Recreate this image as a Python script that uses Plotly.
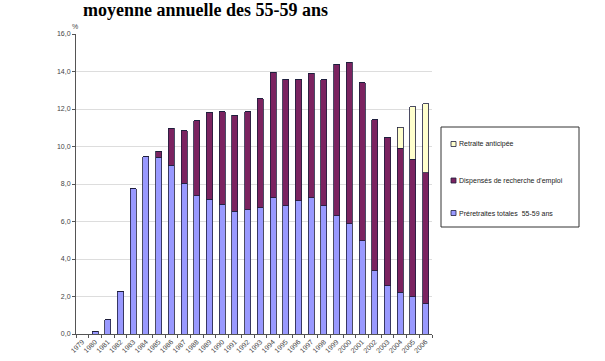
import plotly.graph_objects as go

years = [str(y) for y in range(1979, 2007)]
preretraites = [0, 0.15, 0.75, 2.25, 7.75, 9.45, 9.42, 9.0, 8.05, 7.38, 7.2, 6.92, 6.56, 6.63,
                6.74, 7.27, 6.85, 7.12, 7.27, 6.85, 6.31, 5.88, 4.98, 3.37, 2.58, 2.22, 1.99, 1.62]
dispenses = [0, 0, 0, 0, 0, 0, 0.34, 1.97, 2.78, 4.0, 4.59, 4.94, 5.12, 5.23,
             5.81, 6.7, 6.75, 6.48, 6.65, 6.72, 8.07, 8.61, 8.43, 8.06, 7.89, 7.68, 7.34, 6.97]
retraite = [0] * 25 + [1.12, 2.79, 3.68]

series_names = ["Préretraites totales  55-59 ans", "Dispensés de recherche d'emploi", "Retraite anticipée"]
series_vals = [preretraites, dispenses, retraite]
colors = ["#9999FF", "#7B2360", "#FFFFCC"]
y_ticks = [0, 2, 4, 6, 8, 10, 12, 14, 16]

fig = go.Figure()
for name, vals, col in zip(series_names, series_vals, colors):
    fig.add_trace(go.Bar(x=years, y=vals, name=name, marker=dict(color=col, line=dict(color="#1e1e3c", width=0.8)),
                         showlegend=False))

L, R, T, B = 76, 173, 34, 27
W, H = 605, 361
pw, ph = W - L - R, H - T - B

def px(x):
    return (x - L) / pw

def py(y):
    return (H - B - y) / ph

shapes = [dict(type="rect", xref="paper", yref="paper", x0=px(441), x1=px(579), y0=py(127), y1=py(227),
               line=dict(color="#333333", width=1), fillcolor="white")]
annotations = [
    dict(text="<b>moyenne annuelle des 55-59 ans</b>", xref="paper", yref="paper", x=px(205), y=py(10.5),
         xanchor="center", yanchor="middle", showarrow=False,
         font=dict(family="Liberation Serif", size=18, color="black")),
    dict(text="%", xref="paper", yref="paper", x=px(75), y=py(27), xanchor="center", yanchor="middle",
         showarrow=False, font=dict(family="Liberation Sans", size=7, color="#444444")),
]
leg_y = [144, 180.5, 213]
for name, col, yy in zip(reversed(series_names), reversed(colors), leg_y):
    shapes.append(dict(type="rect", xref="paper", yref="paper", x0=px(451), x1=px(456), y0=py(yy - 2.5), y1=py(yy + 2.5),
                       line=dict(color="#1e1e3c", width=0.8), fillcolor=col))
    annotations.append(dict(text=name, xref="paper", yref="paper", x=px(457), y=py(yy), xanchor="left", yanchor="middle",
                            showarrow=False, font=dict(family="Liberation Sans", size=7, color="#222222")))

fig.update_layout(
    width=W, height=H, margin=dict(l=L, r=R, t=T, b=B, autoexpand=False),
    barmode="stack", bargap=0.52, plot_bgcolor="white", paper_bgcolor="white",
    separators=", ", shapes=shapes, annotations=annotations,
    font=dict(family="Liberation Sans", size=7, color="#444444"),
)
fig.update_xaxes(type="category", tickangle=-45, showline=True, linecolor="#555555", linewidth=1, automargin=False,
                 ticks="outside", ticklen=3, tickcolor="#555555", tickson="boundaries", showgrid=False,
                 tickfont=dict(size=7, color="#444444"))
fig.update_yaxes(range=[0, 16], tickvals=y_ticks, tickformat=".1f", showline=True, linecolor="#555555", linewidth=1,
                 automargin=False, ticks="outside", ticklen=3, tickcolor="#555555", gridcolor="#dddddd", gridwidth=1,
                 tickfont=dict(size=7, color="#444444"), zeroline=False)

fig.write_html("out.html")
